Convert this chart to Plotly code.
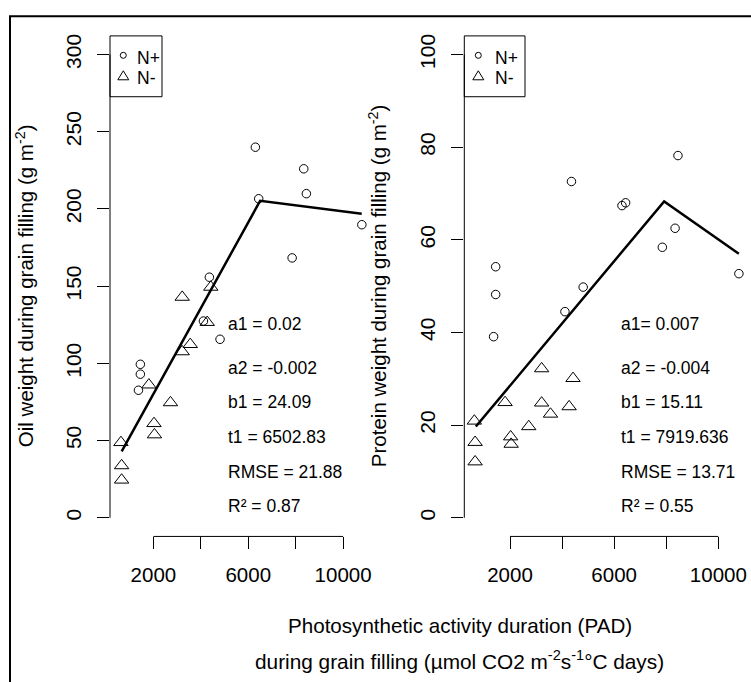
import plotly.graph_objects as go

# ---------------- data ----------------
pad_nplus = [1450, 1450, 1370, 4110, 4360, 4810, 6300, 6440, 7850, 8340, 8450, 10790]
oil_nplus = [99.4, 93.0, 82.6, 127.4, 155.8, 115.6, 240.0, 206.6, 168.3, 226.0, 209.9, 189.8]
prot_nplus = [54.2, 48.2, 39.1, 44.5, 72.6, 49.8, 67.4, 68.0, 58.4, 62.5, 78.2, 52.7]

pad_nminus = [630, 660, 660, 1810, 2025, 2045, 2720, 3215, 3215, 3555, 4270, 4420]
oil_nminus = [48.8, 33.8, 24.5, 86.1, 61.1, 53.8, 74.6, 142.9, 107.6, 112.3, 126.6, 149.4]
prot_nminus = [20.9, 16.3, 12.1, 24.9, 17.5, 15.9, 19.7, 32.2, 24.8, 22.4, 24.0, 30.1]

oil_fit_x = [663, 6502.83, 10784]
oil_fit_y = [43.0, 205.3, 196.9]
prot_fit_x = [688, 7919.636, 10787]
prot_fit_y = [19.7, 68.3, 57.0]

x_ticks = [2000, 6000, 10000]
x_ticktext = ["2000", "6000", "10000"]
x_minor_ticks = [4000, 8000]
oil_ticks = [0, 50, 100, 150, 200, 250, 300]
prot_ticks = [0, 20, 40, 60, 80, 100]

oil_stats = ["a1 = 0.02", "a2 = -0.002", "b1 = 24.09", "t1 = 6502.83", "RMSE = 21.88", "R² = 0.87"]
prot_stats = ["a1= 0.007", "a2 = -0.004", "b1 = 15.11", "t1 = 7919.636", "RMSE = 13.71", "R² = 0.55"]

legend_labels = ["N+", "N-"]

# ---------------- layout helpers ----------------
# page body margin is removed by a small post script, so the figure fills the window
W, H = 751, 682
def fx(p):
    return p / W
def fy(p):
    return 1 - p / H

FONT = "Liberation Sans, Arial, sans-serif"
SMALL = "Liberation Sans, Arial, sans-serif"

fig = go.Figure()

panels = [
    dict(xa="x", ya="y", xs=pad_nplus, ys=oil_nplus, xm=pad_nminus, ym=oil_nminus,
         fx_=oil_fit_x, fy_=oil_fit_y),
    dict(xa="x2", ya="y2", xs=pad_nplus, ys=prot_nplus, xm=pad_nminus, ym=prot_nminus,
         fx_=prot_fit_x, fy_=prot_fit_y),
]
for p in panels:
    fig.add_trace(go.Scatter(x=p["xs"], y=p["ys"], mode="markers", xaxis=p["xa"], yaxis=p["ya"],
                             marker=dict(symbol="circle-open", size=8.5, color="black",
                                         line=dict(width=1, color="black")),
                             showlegend=False, hoverinfo="skip"))
    fig.add_trace(go.Scatter(x=p["xm"], y=p["ym"], mode="markers", xaxis=p["xa"], yaxis=p["ya"],
                             marker=dict(symbol="triangle-up-open", size=12.5, color="black",
                                         line=dict(width=1, color="black")),
                             showlegend=False, hoverinfo="skip"))
    fig.add_trace(go.Scatter(x=p["fx_"], y=p["fy_"], mode="lines", xaxis=p["xa"], yaxis=p["ya"],
                             line=dict(color="black", width=2.5),
                             showlegend=False, hoverinfo="skip"))

xcommon = dict(tickvals=x_ticks, ticktext=x_ticktext, ticks="outside", ticklen=12,
               tickwidth=1, tickcolor="black", showline=False, showgrid=False, zeroline=False,
               minor=dict(tickvals=x_minor_ticks, ticks="outside", ticklen=12, tickwidth=1,
                          tickcolor="black", showgrid=False),
               tickfont=dict(family=FONT, size=20.5, color="black"), ticklabelstandoff=8)
ycommon = dict(ticks="outside", ticklen=12, tickwidth=1, tickcolor="black", showline=False,
               showgrid=False, zeroline=False, tickangle=-90,
               tickfont=dict(family=FONT, size=21, color="black"), ticklabelstandoff=8)

ydom = [fy(536), fy(34)]
fig.update_layout(
    width=W, height=H, margin=dict(l=0, r=0, t=0, b=0),
    paper_bgcolor="white", plot_bgcolor="white", showlegend=False,
    xaxis=dict(domain=[fx(110), fx(371.5)], range=[170, 11197], anchor="y", **xcommon),
    yaxis=dict(domain=ydom, range=[-12.07, 312.07], anchor="x", tickvals=oil_ticks, **ycommon),
    xaxis2=dict(domain=[fx(464.3), fx(749.5)], range=[245, 11197], anchor="y2", **xcommon),
    yaxis2=dict(domain=ydom, range=[-4.025, 104.03], anchor="x2", tickvals=prot_ticks, **ycommon),
)

shapes = []
# axis lines spanning the tick range (R style)
all_x = x_ticks + x_minor_ticks
for xa, ya, yt in [("x", "y", oil_ticks), ("x2", "y2", prot_ticks)]:
    shapes.append(dict(type="line", xref=xa, yref=ya + " domain", x0=min(all_x), x1=max(all_x),
                       y0=0, y1=0, line=dict(color="black", width=1)))
    shapes.append(dict(type="line", xref=xa + " domain", yref=ya, x0=0, x1=0,
                       y0=min(yt), y1=max(yt), line=dict(color="black", width=1)))

# outer frame
shapes.append(dict(type="rect", xref="paper", yref="paper", x0=fx(10), x1=fx(770),
                   y0=fy(700), y1=fy(14.3), line=dict(color="black", width=2)))

annotations = []
# legends
for (bx0, bx1, sx, tx) in [(110, 162, 123.3, 135), (464.3, 525, 478.3, 493)]:
    shapes.append(dict(type="rect", xref="paper", yref="paper", x0=fx(bx0), x1=fx(bx1),
                       y0=fy(95), y1=fy(34), line=dict(color="black", width=1)))
    shapes.append(dict(type="circle", xref="paper", yref="paper", xsizemode="pixel",
                       ysizemode="pixel", xanchor=fx(sx), yanchor=fy(53.5),
                       x0=-3, x1=3, y0=-3, y1=3, line=dict(color="black", width=1)))
    shapes.append(dict(type="path", xref="paper", yref="paper", xsizemode="pixel",
                       ysizemode="pixel", xanchor=fx(sx), yanchor=fy(74),
                       path="M -5.5 -4 L 5.5 -4 L 0 5 Z", line=dict(color="black", width=1)))
    for lab, ty in zip(legend_labels, [56.5, 76]):
        annotations.append(dict(text=lab, xref="paper", yref="paper", x=fx(tx), y=fy(ty),
                                xanchor="left", yanchor="middle", showarrow=False,
                                font=dict(family=SMALL, size=17.5, color="black")))

# fit statistics
rows_y = [322.7, 367.3, 400.7, 436, 471, 505]
for stats, left in [(oil_stats, 226), (prot_stats, 619.3)]:
    for s, yy in zip(stats, rows_y):
        annotations.append(dict(text=s, xref="paper", yref="paper", x=fx(left), y=fy(yy),
                                xanchor="left", yanchor="middle", showarrow=False,
                                font=dict(family=SMALL, size=17.5, color="black")))

# axis titles
annotations.append(dict(text="Oil weight during grain filling (g m<sup>-2</sup>)", xref="paper",
                        yref="paper", x=fx(25), y=fy(285), textangle=-90, showarrow=False,
                        xanchor="center", yanchor="middle",
                        font=dict(family=FONT, size=20.5, color="black")))
annotations.append(dict(text="Protein weight during grain filling (g m<sup>-2</sup>)", xref="paper",
                        yref="paper", x=fx(378), y=fy(285), textangle=-90, showarrow=False,
                        xanchor="center", yanchor="middle",
                        font=dict(family=FONT, size=20.5, color="black")))
annotations.append(dict(text="Photosynthetic activity duration (PAD)", xref="paper", yref="paper",
                        x=fx(459.5), y=fy(625), showarrow=False, xanchor="center",
                        yanchor="middle", font=dict(family=FONT, size=20.6, color="black")))
annotations.append(dict(text="during grain filling (µmol CO2 m<sup>-2</sup>s<sup>-1</sup>°C days)",
                        xref="paper", yref="paper", x=fx(459.5), y=fy(660), showarrow=False,
                        xanchor="center", yanchor="middle",
                        font=dict(family=FONT, size=20.8, color="black")))

fig.update_layout(shapes=shapes, annotations=annotations)
fig.write_html("out.html", config=dict(displayModeBar=False),
               post_script="document.body.style.margin='0px';document.body.style.overflow='hidden';")
